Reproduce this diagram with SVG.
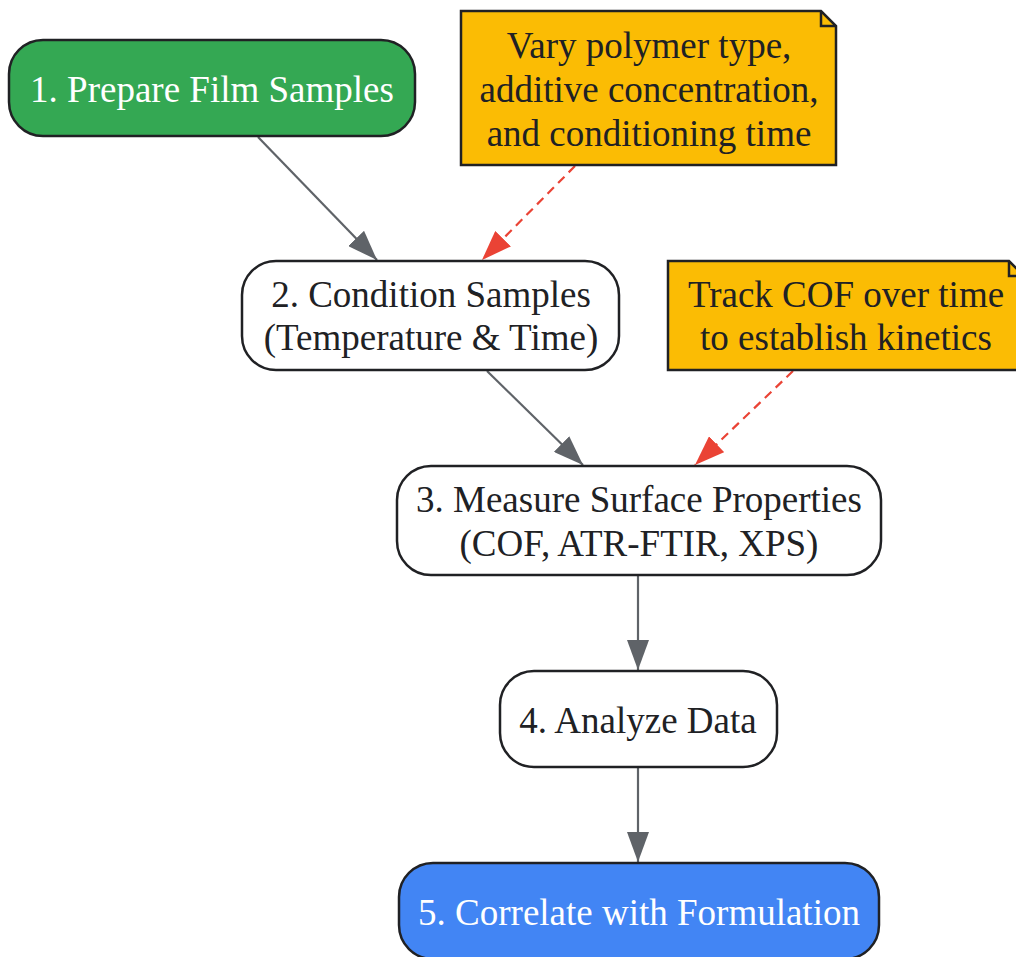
<svg xmlns="http://www.w3.org/2000/svg" width="1016" height="957" viewBox="0 0 1016 957">
<defs>
<style>
.n{stroke:#202124;stroke-width:2.5}
.t{font-family:"Liberation Serif","Times New Roman",serif;font-size:37px;text-anchor:middle;fill:#202124}
.e{fill:none;stroke:#5f6368;stroke-width:2.2}
.d{fill:none;stroke:#ea4335;stroke-width:2.2;stroke-dasharray:9 6}
</style>
<marker id="ag" viewBox="0 0 30 22" refX="30" refY="11" markerWidth="30" markerHeight="22" markerUnits="userSpaceOnUse" orient="auto"><path d="M0,0 L30,11 L0,22 Z" fill="#5f6368"/></marker>
<marker id="ar" viewBox="0 0 30 22" refX="30" refY="11" markerWidth="30" markerHeight="22" markerUnits="userSpaceOnUse" orient="auto"><path d="M0,0 L30,11 L0,22 Z" fill="#ea4335"/></marker>
</defs>
<rect width="1016" height="957" fill="#ffffff"/>
<g id="edges">
<path class="e" d="M258,137 L377,260" marker-end="url(#ag)"/>
<path class="e" d="M487,371 L583,465" marker-end="url(#ag)"/>
<path class="e" d="M638,576 L638,670" marker-end="url(#ag)"/>
<path class="e" d="M638,768 L638,862" marker-end="url(#ag)"/>
<path class="d" d="M575,166 L482,260" marker-end="url(#ar)"/>
<path class="d" d="M793,371 L695,465" marker-end="url(#ar)"/>
</g>
<g id="node1">
<rect class="n" x="9" y="40" width="406" height="96" rx="34" fill="#34a853"/>
<text class="t" x="212" y="102" style="fill:#ffffff">1. Prepare Film Samples</text>
</g>
<g id="note1">
<path class="n" d="M461,11 L821,11 L836,26 L836,165 L461,165 Z" fill="#fbbc04"/>
<path class="n" d="M821,11 L821,26 L836,26" fill="none"/>
<text class="t" x="649" y="58">Vary polymer type,</text>
<text class="t" x="649" y="102">additive concentration,</text>
<text class="t" x="649" y="146">and conditioning time</text>
</g>
<g id="node2">
<rect class="n" x="242" y="261" width="377" height="109" rx="34" fill="#ffffff"/>
<text class="t" x="431" y="307">2. Condition Samples</text>
<text class="t" x="431" y="350">(Temperature &amp; Time)</text>
</g>
<g id="note2">
<path class="n" d="M668,261 L1009,261 L1024,276 L1024,370 L668,370 Z" fill="#fbbc04"/>
<path class="n" d="M1009,261 L1009,276 L1024,276" fill="none"/>
<text class="t" x="846" y="307">Track COF over time</text>
<text class="t" x="846" y="350">to establish kinetics</text>
</g>
<g id="node3">
<rect class="n" x="397" y="466" width="484" height="109" rx="34" fill="#ffffff"/>
<text class="t" x="639" y="512">3. Measure Surface Properties</text>
<text class="t" x="639" y="556">(COF, ATR-FTIR, XPS)</text>
</g>
<g id="node4">
<rect class="n" x="500" y="671" width="277" height="96" rx="34" fill="#ffffff"/>
<text class="t" x="638" y="733">4. Analyze Data</text>
</g>
<g id="node5">
<rect class="n" x="399" y="863" width="480" height="96" rx="34" fill="#4285f4"/>
<text class="t" x="639" y="925" style="fill:#ffffff">5. Correlate with Formulation</text>
</g>
</svg>
